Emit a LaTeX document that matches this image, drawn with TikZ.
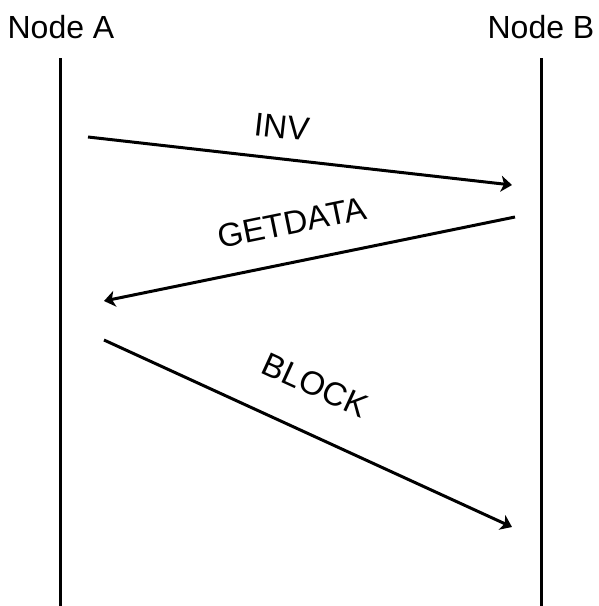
\documentclass[tikz,border=0pt]{standalone}
\usepackage{fontspec}
\setmainfont{Liberation Sans}
\usetikzlibrary{arrows.meta,positioning}
\tikzset{
  actor/.style={font=\fontsize{32}{38}\selectfont, inner sep=0pt, anchor=base},
  lifeline/.style={line width=3pt, draw=black},
  msg/.style={-{Stealth[length=11pt, width=16pt, inset=3pt]}, line width=3pt, draw=black},
  msglabel/.style={font=\fontsize{33}{39}\selectfont, inner sep=0pt, sloped}
}

\begin{document}
\begin{tikzpicture}[x=1pt, y=-1pt]
  \useasboundingbox (0,0) rectangle (598,606);
  \node[actor] (nodeA) at (61,38) {Node A};
  \node[actor] (nodeB) at (541,38) {Node B};

  % lifelines
  \coordinate (topA) at (60,58);
  \coordinate (topB) at (541,58);
  \coordinate (endA) at (60,606);
  \coordinate (endB) at (541,606);
  \draw[lifeline] (topA) -- (endA);
  \draw[lifeline] (topB) -- (endB);

  % message ends
  \coordinate (invS) at (88,137);
  \coordinate (invE) at (512,185);
  \coordinate (getS) at (515,217);
  \coordinate (getE) at (104,301);
  \coordinate (blkS) at (104,340);
  \coordinate (blkE) at (512,527);

  \draw[msg] (invS) -- node[msglabel, pos=0.45, above=19pt]{INV} (invE);
  \draw[msg] (getS) -- node[msglabel, pos=0.524, above=26pt]{GETDATA} (getE);
  \draw[msg] (blkS) -- node[msglabel, pos=0.47, above=34pt]{BLOCK} (blkE);
\end{tikzpicture}
\end{document}
